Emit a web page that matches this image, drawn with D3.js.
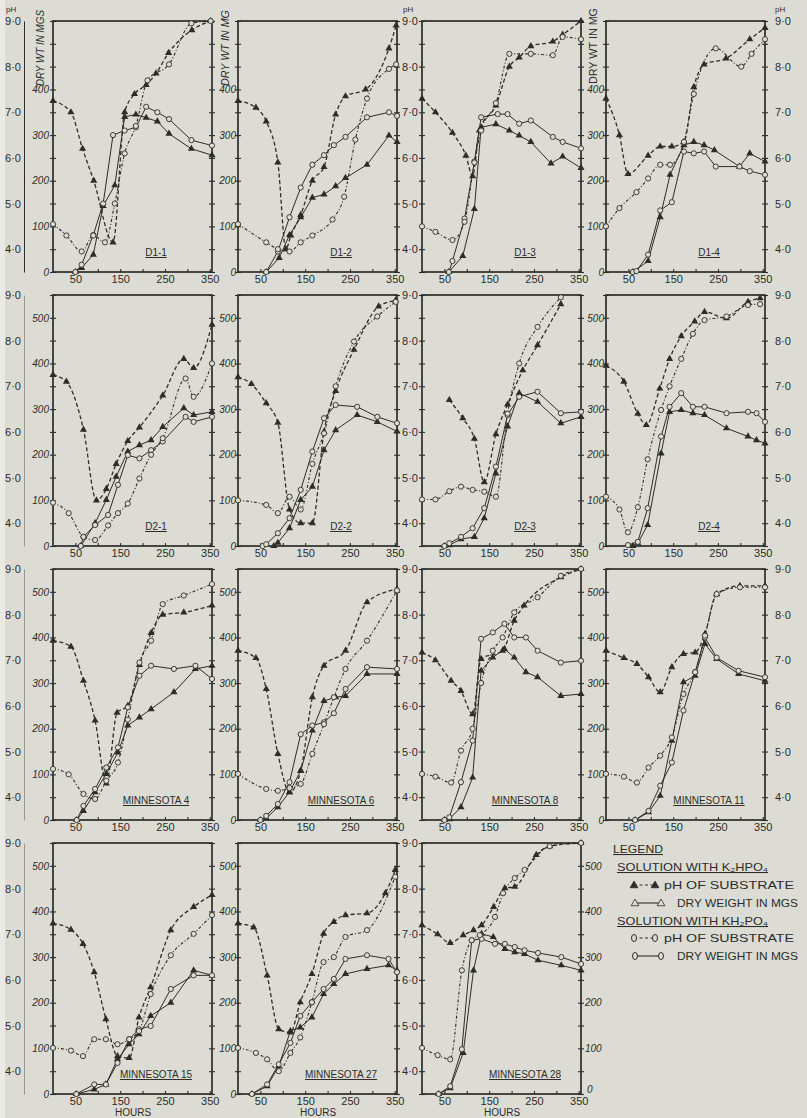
<!DOCTYPE html>
<html lang="en">
<head>
<meta charset="UTF-8">
<title>pH of substrate and dry weight</title>
<script src="https://d3js.org/d3.v7.min.js"></script>
<style>
  body{ margin:0; background:#dcdcd4; }
  svg{ display:block; font-family:"Liberation Sans","DejaVu Sans",sans-serif; }
</style>
</head>
<body>
<div id="chart"></div>
<script>
// panel titles, in reading order
var panelNames = ["D1-1","D1-2","D1-3","D1-4","D2-1","D2-2","D2-3","D2-4",
  "MINNESOTA 4","MINNESOTA 6","MINNESOTA 8","MINNESOTA 11","MINNESOTA 15","MINNESOTA 27","MINNESOTA 28"];

// K2HPO4 : pH of substrate  [hours, pH]
var k2PH = [
  [[0,7.25],[40,7.0],[66,6.2],[91,5.5],[134,4.15],[160,7.0],[182,7.4],[208,7.6],[230,7.85],[258,8.3],[310,8.8],[352,9.0]],
  [[0,7.25],[40,7.1],[63,6.8],[89,5.9],[107,4.0],[118,4.3],[140,4.75],[166,5.5],[192,5.8],[218,6.95],[240,7.35],[285,7.5],[337,8.4],[353,8.9]],
  [[0,7.3],[30,7.0],[68,6.55],[98,6.05],[113,5.6],[128,6.6],[165,7.15],[195,8.0],[217,8.2],[243,8.45],[292,8.55],[314,8.7],[355,9.0]],
  [[0,7.3],[30,6.5],[49,5.65],[94,6.05],[121,6.25],[147,6.25],[174,6.35],[196,7.55],[219,8.05],[268,8.18],[321,8.6],[355,8.85]],
  [[0,7.25],[30,7.1],[68,6.05],[97,4.5],[119,4.75],[141,5.3],[167,5.8],[193,6.1],[245,6.8],[292,7.6],[314,7.4],[355,8.35]],
  [[0,7.2],[30,7.05],[63,6.63],[89,6.2],[115,4.3],[140,4.0],[166,4.0],[192,6.0],[218,6.9],[259,7.8],[314,8.75],[352,8.88]],
  [[61,6.7],[91,6.3],[117,5.85],[139,4.9],[165,5.95],[191,6.6],[225,7.35],[258,7.9],[310,8.8]],
  [[0,7.45],[40,7.1],[71,6.4],[90,6.15],[120,6.95],[142,7.6],[168,8.1],[198,8.42],[220,8.63],[269,8.49],[317,8.85],[344,8.93]],
  [[0,7.43],[40,7.3],[68,6.55],[94,5.68],[119,4.3],[143,5.85],[167,6.0],[193,6.9],[219,7.6],[245,8.0],[292,8.05],[355,8.2]],
  [[0,7.21],[40,7.05],[63,6.37],[89,4.95],[115,4.11],[140,4.58],[166,6.19],[192,6.88],[240,7.21],[288,8.27],[355,8.56]],
  [[0,7.17],[30,7.0],[65,6.55],[87,6.33],[113,5.82],[132,7.03],[180,7.21],[206,7.87],[228,8.2],[310,8.82],[355,9.0]],
  [[0,7.21],[40,7.05],[69,6.92],[95,6.63],[121,6.3],[147,6.85],[173,7.14],[199,7.17],[221,7.58],[247,8.45],[299,8.63],[355,8.63]],
  [[0,7.24],[40,7.1],[67,6.79],[92,6.17],[118,5.14],[144,4.33],[170,4.29],[192,5.18],[218,5.84],[263,7.09],[314,7.6],[355,7.86]],
  [[0,7.24],[35,7.15],[65,6.1],[91,4.92],[117,4.85],[139,5.51],[165,6.13],[191,7.01],[214,7.27],[240,7.42],[288,7.46],[329,7.9],[351,8.41]],
  [[0,7.2],[35,7.0],[63,6.81],[92,6.98],[115,7.09],[133,7.2],[160,7.6],[185,8.01],[207,8.04],[255,8.74],[285,8.93],[355,9.0]]
];

// K2HPO4 : dry weight in mgs  [hours, mg]
var k2Wt = [
  [[50,0],[64,9],[90,38],[112,145],[138,190],[160,340],[185,345],[208,338],[233,330],[259,303],[309,270],[355,256]],
  [[63,0],[92,31],[115,81],[140,120],[166,163],[192,170],[218,188],[240,206],[288,235],[337,299],[355,285]],
  [[60,0],[91,35],[117,138],[132,317],[165,324],[195,310],[217,299],[243,285],[288,238],[314,253],[355,228]],
  [[60,0],[94,24],[121,120],[143,213],[174,278],[196,285],[219,278],[242,267],[298,231],[321,260],[355,242]],
  [[62,0],[94,50],[119,101],[141,152],[167,207],[193,221],[219,232],[245,261],[292,302],[314,287],[355,294]],
  [[80,0],[89,7],[115,39],[140,101],[166,130],[192,210],[218,254],[266,287],[311,272],[355,251]],
  [[50,0],[61,2],[87,15],[117,20],[139,61],[165,159],[191,262],[217,335],[258,316],[310,269],[355,283]],
  [[60,0],[71,6],[93,46],[123,203],[142,294],[168,298],[194,291],[220,287],[269,258],[317,240],[336,232],[355,225]],
  [[53,0],[68,20],[94,61],[119,101],[145,148],[167,207],[193,225],[219,243],[270,280],[318,331],[355,338]],
  [[50,0],[63,4],[89,28],[115,61],[140,108],[166,196],[192,261],[218,269],[240,272],[288,320],[355,320]],
  [[50,0],[61,2],[87,28],[113,93],[132,327],[158,356],[184,375],[206,356],[232,324],[258,313],[310,272],[355,276]],
  [[65,0],[95,17],[121,53],[147,174],[173,302],[199,316],[221,386],[247,353],[296,320],[355,305]],
  [[52,0],[92,10],[118,21],[144,76],[170,109],[192,131],[218,171],[263,200],[314,271],[355,260]],
  [[31,0],[65,17],[91,61],[117,138],[139,146],[165,168],[191,219],[214,241],[240,263],[288,274],[336,282],[355,271]],
  [[37,0],[63,13],[92,90],[115,271],[133,351],[159,344],[185,318],[207,311],[229,307],[259,293],[311,282],[355,271]]
];

// KH2PO4 : pH of substrate
var khPH = [
  [[0,4.55],[30,4.3],[64,3.95],[90,4.3],[116,4.15],[138,5.0],[160,6.1],[185,6.7],[211,7.7],[259,8.05],[309,8.95],[352,9.0]],
  [[0,4.55],[63,4.15],[89,4.0],[115,3.95],[140,4.15],[166,4.3],[211,4.65],[237,5.15],[262,6.4],[288,7.3],[337,7.95],[353,8.05]],
  [[0,4.5],[30,4.38],[68,4.2],[95,4.6],[117,5.9],[132,6.6],[165,7.2],[195,8.28],[243,8.28],[292,8.25],[314,8.65],[355,8.6]],
  [[0,4.5],[30,4.9],[68,5.25],[94,5.55],[121,5.85],[143,5.85],[174,6.35],[196,7.4],[245,8.4],[302,8.0],[325,8.28],[355,8.6]],
  [[0,4.45],[35,4.22],[68,3.7],[94,3.63],[123,3.95],[145,4.22],[167,4.43],[193,4.98],[219,5.5],[245,5.86],[296,7.17],[314,6.77],[355,7.5]],
  [[0,4.5],[63,4.4],[89,4.22],[115,4.58],[140,4.3],[166,5.3],[192,5.97],[218,7.0],[259,7.98],[311,8.53],[352,8.85]],
  [[0,4.52],[30,4.52],[61,4.7],[87,4.8],[113,4.73],[139,4.69],[165,4.58],[191,6.4],[217,7.5],[258,8.3],[310,8.95]],
  [[0,4.58],[30,4.3],[49,3.8],[71,4.35],[93,5.4],[123,6.48],[142,7.0],[168,7.6],[194,8.15],[220,8.45],[269,8.53],[317,8.78],[344,8.8]],
  [[0,4.62],[35,4.5],[68,4.07],[94,3.96],[119,4.36],[145,4.76],[167,5.7],[193,6.95],[219,7.43],[245,8.23],[292,8.42],[355,8.67]],
  [[0,4.51],[63,4.18],[89,4.14],[115,4.2],[140,4.29],[166,4.95],[192,5.6],[214,6.19],[240,6.81],[288,7.43],[355,8.53]],
  [[0,4.51],[30,4.45],[65,4.32],[87,5.02],[113,5.5],[132,6.5],[158,7.21],[180,7.5],[206,8.05],[258,8.38],[310,8.85],[355,9.0]],
  [[0,4.51],[40,4.45],[69,4.32],[95,4.65],[121,4.91],[147,5.31],[173,6.26],[199,6.74],[221,7.54],[247,8.45],[299,8.6],[355,8.6]],
  [[0,4.51],[40,4.45],[67,4.33],[92,4.7],[118,4.7],[144,4.59],[170,4.7],[192,4.88],[218,5.69],[263,6.54],[314,7.01],[355,7.42]],
  [[0,4.51],[40,4.4],[65,4.26],[91,4.0],[117,4.4],[139,4.74],[165,5.51],[191,6.39],[214,6.5],[240,6.94],[288,7.09],[351,8.26]],
  [[0,4.51],[35,4.35],[63,4.26],[89,6.21],[111,6.87],[129,6.98],[163,7.38],[181,7.9],[207,8.23],[229,8.41],[285,8.93],[355,9.0]]
];

// KH2PO4 : dry weight in mgs
var khWt = [
  [[50,0],[64,16],[90,81],[112,150],[134,300],[160,310],[185,317],[208,362],[233,350],[259,335],[309,289],[355,277]],
  [[63,0],[89,45],[115,120],[140,185],[166,235],[192,256],[214,278],[240,296],[288,339],[337,350],[355,342]],
  [[60,0],[68,24],[95,117],[117,242],[132,339],[169,346],[191,346],[217,325],[243,332],[292,296],[314,285],[355,271]],
  [[60,0],[68,2],[94,38],[121,135],[147,153],[174,264],[196,260],[219,264],[245,231],[298,231],[321,221],[355,213]],
  [[62,0],[68,20],[94,46],[123,68],[145,134],[167,199],[193,192],[219,210],[245,229],[296,283],[314,272],[355,283]],
  [[55,0],[63,4],[89,28],[115,61],[140,123],[166,207],[192,280],[218,309],[266,305],[311,283],[355,269]],
  [[50,0],[61,6],[87,20],[113,39],[139,83],[165,174],[191,287],[217,327],[258,338],[310,291],[355,294]],
  [[49,2],[71,9],[93,83],[123,240],[142,305],[168,335],[194,305],[220,305],[269,291],[317,294],[336,291],[355,272]],
  [[53,0],[68,31],[94,68],[119,115],[145,159],[167,247],[193,316],[219,338],[270,331],[318,338],[355,309]],
  [[50,0],[63,9],[89,35],[115,83],[140,188],[166,207],[192,214],[214,234],[240,287],[288,335],[355,331]],
  [[50,0],[61,6],[87,83],[113,174],[132,397],[158,411],[184,430],[206,400],[232,400],[258,371],[310,345],[355,349]],
  [[65,0],[95,20],[121,75],[147,126],[173,240],[199,324],[221,400],[247,356],[296,327],[355,313]],
  [[52,0],[92,21],[118,21],[144,68],[170,120],[192,142],[218,149],[263,230],[314,260],[355,260]],
  [[31,0],[65,21],[91,65],[117,112],[139,171],[165,201],[191,230],[214,252],[240,296],[288,304],[336,296],[355,267]],
  [[37,0],[63,17],[89,98],[111,337],[133,340],[163,329],[185,329],[207,322],[229,315],[259,309],[311,300],[355,285]]
];

var hourTicks = [50,150,250,350];
var phTicks = [9,8,7,6,5,4];
var wtTicksTop = [0,100,200,300,400];
var wtTicks = [0,100,200,300,400,500];
var legendRows = ["pH OF SUBSTRATE","DRY WEIGHT IN MGS"];

var width = 807, height = 1118;
var ink = "#2c2c2a", paper = "#dcdcd4";
var colX = [53,238,422,606], rowY = [21,295,569,843];
var pw = 159, ph = 251;

var svg = d3.select('#chart').append('svg')
  .attr('width', width)
  .attr('height', height);

svg.append('rect').attr('width', width).attr('height', height).attr('fill', paper);
svg.append('rect').attr('width', 5).attr('height', height).attr('fill', '#e9e9e5');

var tri = d3.symbol().type(d3.symbolTriangle).size(22);

function fmtPH(d){ return d.toFixed(1).replace('.', '·'); }

function styleAxis(g, italic){
  g.select('.domain').remove();
  g.selectAll('text')
    .attr('fill', ink)
    .style('font-family', '"Liberation Sans","DejaVu Sans",sans-serif')
    .style('font-size', italic ? '10px' : '11px')
    .style('font-style', italic ? 'italic' : 'normal');
  return g;
}

panelNames.forEach(function(name, i){
  var col = i % 4, row = Math.floor(i / 4);
  var L = colX[col], T = rowY[row], B = T + ph;

  var x = d3.scaleLinear().domain([0, 355]).range([L, L + pw]);
  var yPH = d3.scaleLinear().domain([3.5, 9]).range([B, T]);
  var yWt = d3.scaleLinear().domain([0, 550]).range([B, T]);
  var g = svg.append('g');

  // frame + small ticks
  g.append('rect')
    .attr('x', L).attr('y', T).attr('width', pw).attr('height', ph)
    .attr('fill', 'none').attr('stroke', ink).attr('stroke-width', 1.7);
  var fl = g.append('g').attr('transform', 'translate(' + (L + 3) + ',0)')
    .call(d3.axisLeft(yPH).ticks(11).tickSize(6).tickFormat(''));
  fl.select('.domain').remove();
  var fr = g.append('g').attr('transform', 'translate(' + (L + pw - 3) + ',0)')
    .call(d3.axisRight(yPH).ticks(11).tickSize(6).tickFormat(''));
  fr.select('.domain').remove();
  var fb = g.append('g').attr('transform', 'translate(0,' + B + ')')
    .call(d3.axisTop(x).tickValues(d3.range(50, 355, 50)).tickSize(3).tickFormat(''));
  fb.select('.domain').remove();
  g.selectAll('.tick line').attr('stroke', ink).attr('stroke-width', 1.1);

  // hours axis labels
  var xa = g.append('g').attr('transform', 'translate(0,' + (B + 2) + ')')
    .call(d3.axisBottom(x).tickValues(hourTicks).tickSize(0).tickPadding(1));
  styleAxis(xa, false);
  if (row === 3) {
    g.append('text').attr('x', L + 80).attr('y', B + 22)
      .attr('text-anchor', 'middle').attr('fill', ink)
      .style('font-size', '10px').text('HOURS');
  }

  // pH scale labels
  if (col === 0) {
    var pa = g.append('g').attr('transform', 'translate(24,0)')
      .call(d3.axisLeft(yPH).tickValues(phTicks).tickFormat(fmtPH).tickSize(0).tickSizeOuter(0).tickPadding(3));
    pa.select('.domain').attr('stroke', row === 0 ? ink : '#9a9a94').attr('stroke-width', 1);
    pa.selectAll('text').attr('fill', ink).style('font-size', '11px')
      .style('font-family', '"Liberation Sans","DejaVu Sans",sans-serif');
  }
  if (col === 2) {
    styleAxis(g.append('g').attr('transform', 'translate(' + (L - 3) + ',0)')
      .call(d3.axisLeft(yPH).tickValues(phTicks).tickFormat(fmtPH).tickSize(0).tickPadding(1)), false);
  }
  if (col === 3) {
    styleAxis(g.append('g').attr('transform', 'translate(' + (L + pw + 8) + ',0)')
      .call(d3.axisRight(yPH).tickValues(phTicks).tickFormat(fmtPH).tickSize(0).tickPadding(2)), false);
  }

  // dry weight scale labels
  var wt = row === 0 ? wtTicksTop : wtTicks;
  if (col !== 2) {
    styleAxis(g.append('g').attr('transform', 'translate(' + L + ',0)')
      .call(d3.axisLeft(yWt).tickValues(wt).tickSize(0).tickPadding(col === 0 ? 4 : 2)), true);
  } else if (row === 3) {
    var wr = styleAxis(g.append('g').attr('transform', 'translate(' + (L + pw) + ',0)')
      .call(d3.axisRight(yWt).tickValues(wt).tickSize(0).tickPadding(4)), true);
    // the zero sits a little above the corner, clear of the hour label
    wr.selectAll('.tick').filter(function(d){ return d === 0; }).select('text')
      .attr('x', 6).attr('dy', '-0.2em');
  }

  // curves
  var linePH = d3.line().x(function(d){ return x(d[0]); }).y(function(d){ return yPH(d[1]); }).curve(d3.curveMonotoneX);
  var lineWt = d3.line().x(function(d){ return x(d[0]); }).y(function(d){ return yWt(d[1]); });

  g.append('path').attr('d', lineWt(k2Wt[i])).attr('fill', 'none').attr('stroke', ink).attr('stroke-width', 1);
  g.append('path').attr('d', lineWt(khWt[i])).attr('fill', 'none').attr('stroke', ink).attr('stroke-width', 1);
  g.append('path').attr('d', linePH(k2PH[i])).attr('fill', 'none').attr('stroke', ink)
    .attr('stroke-width', 1.3).attr('stroke-dasharray', '4,2.5');
  g.append('path').attr('d', linePH(khPH[i])).attr('fill', 'none').attr('stroke', ink)
    .attr('stroke-width', 1.1).attr('stroke-dasharray', '3,2,1,2');

  // markers
  g.selectAll('.tw').data(k2Wt[i]).enter().append('path')
    .attr('d', tri).attr('fill', ink)
    .attr('transform', function(d){ return 'translate(' + x(d[0]) + ',' + yWt(d[1]) + ')'; });
  g.selectAll('.tp').data(k2PH[i]).enter().append('path')
    .attr('d', tri).attr('fill', ink)
    .attr('transform', function(d){ return 'translate(' + x(d[0]) + ',' + yPH(d[1]) + ')'; });
  g.selectAll('.cw').data(khWt[i]).enter().append('circle')
    .attr('cx', function(d){ return x(d[0]); }).attr('cy', function(d){ return yWt(d[1]); })
    .attr('r', 2.6).attr('fill', paper).attr('stroke', ink).attr('stroke-width', 0.9);
  g.selectAll('.cp').data(khPH[i]).enter().append('circle')
    .attr('cx', function(d){ return x(d[0]); }).attr('cy', function(d){ return yPH(d[1]); })
    .attr('r', 2.6).attr('fill', paper).attr('stroke', ink).attr('stroke-width', 0.9);

  // panel title
  g.append('text').attr('x', L + 103).attr('y', B - 16)
    .attr('text-anchor', 'middle').attr('fill', ink)
    .style('font-size', '10px').style('text-decoration', 'underline')
    .text(name);
});

// axis titles on the top row
function vtext(xp, yp, s, italic){
  svg.append('text')
    .attr('transform', 'translate(' + xp + ',' + yp + ') rotate(-90)')
    .attr('fill', ink).attr('textLength', 76).attr('lengthAdjust', 'spacingAndGlyphs')
    .style('font-size', '10px').style('font-style', italic ? 'italic' : 'normal')
    .text(s);
}
vtext(44, 86, 'DRY WT IN MGS', true);
vtext(229, 86, 'DRY WT IN MG', true);
vtext(597, 84, 'DRY WT IN MG', false);
[[6,12],[403,12],[775,12]].forEach(function(p){
  svg.append('text').attr('x', p[0]).attr('y', p[1]).attr('fill', ink)
    .style('font-size', '8px').text('pH');
});

// legend
var lg = svg.append('g').attr('fill', ink);
function ltext(xp, yp, s, len, ul){
  lg.append('text').attr('x', xp).attr('y', yp)
    .attr('textLength', len).attr('lengthAdjust', 'spacingAndGlyphs')
    .style('font-size', '10.5px').style('text-decoration', ul ? 'underline' : 'none')
    .text(s);
}
ltext(613, 853, 'LEGEND', 50, true);
ltext(617, 871, 'SOLUTION WITH K₂HPO₄', 151, true);
ltext(617, 925, 'SOLUTION WITH KH₂PO₄', 151, true);

var legendY = [885, 903, 938, 956];
legendY.forEach(function(yy, k){
  var dashed = k % 2 === 0, triangle = k < 2;
  var x1 = dashed ? 634 : 635, x2 = dashed ? 655 : 661;
  lg.append('line').attr('x1', x1).attr('x2', x2).attr('y1', yy).attr('y2', yy)
    .attr('stroke', ink).attr('stroke-width', 1.1)
    .attr('stroke-dasharray', dashed ? '3,2.5' : null);
  [x1, x2].forEach(function(xx){
    if (triangle) {
      lg.append('path').attr('d', d3.symbol().type(d3.symbolTriangle).size(26))
        .attr('transform', 'translate(' + xx + ',' + (yy + 0.5) + ')')
        .attr('fill', k === 0 ? ink : paper).attr('stroke', ink).attr('stroke-width', 0.8);
    } else {
      lg.append('ellipse').attr('cx', xx).attr('cy', yy).attr('rx', 2.5).attr('ry', 3.5)
        .attr('fill', paper).attr('stroke', ink).attr('stroke-width', 1);
    }
  });
  var s = legendRows[k % 2];
  ltext(dashed ? 664 : 677, yy + 4, s, dashed ? 130 : 121, false);
});
</script>
</body>
</html>
